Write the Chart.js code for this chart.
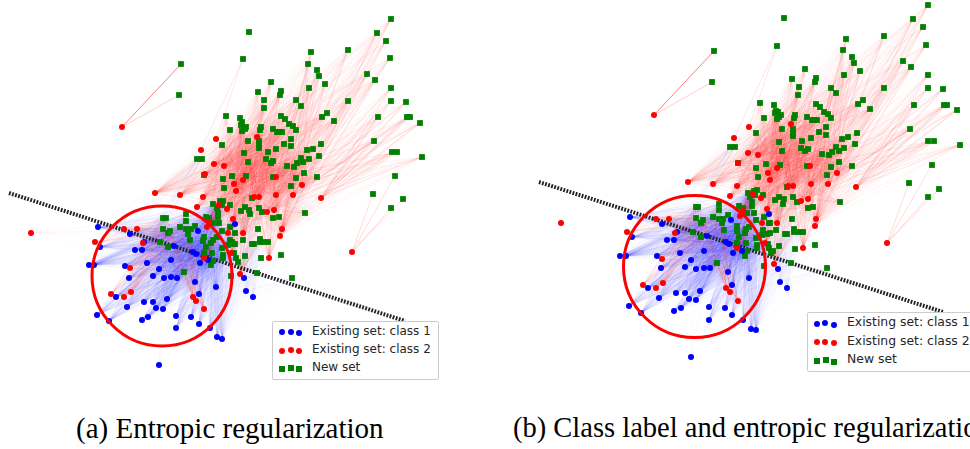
<!DOCTYPE html>
<html lang="en">
<head>
  <meta charset="UTF-8">
  <title>Entropic regularization</title>
  <style>
    html, body { margin: 0; padding: 0; background: #fff; }
    body { position: relative; width: 970px; height: 449px; overflow: hidden; }
    canvas { position: absolute; top: 0; filter: blur(0.35px); }
    #panelA { left: 0; }
    #panelB { left: 530px; }
    .legend {
      position: absolute; box-sizing: border-box; background: #fff;
      border: 1px solid #ccc; border-radius: 2px;
      font-family: "DejaVu Sans", sans-serif; color: #262626; white-space: nowrap;
    }
    .legend div { position: absolute; }
    .legend i { position: absolute; display: block; }
    .caption {
      position: absolute; top: 410px; white-space: nowrap;
      font-family: "Liberation Serif", serif; line-height: 36px; color: #000;
    }
  </style>
</head>
<body>
  <canvas id="panelA" width="465" height="395"></canvas>
  <canvas id="panelB" width="440" height="395"></canvas>
  <div class="caption" style="left:76px;font-size:29px">(a) Entropic regularization</div>
  <div class="caption" style="left:513px;font-size:28.5px">(b) Class label and entropic regularization</div>

  <script src="https://cdn.jsdelivr.net/npm/chart.js"></script>
  <script>
  const legendLabels = ['Existing set: class 1', 'Existing set: class 2', 'New set']

  // panel (a), existing set, class 2
  const redLoneA = [[122,127]]
  const redStrayA = [[31,233]]
  const redFarRightA = [[352,252]]
  const redEdgeA = [[321,198]]
  const redCrownA = [[216,139],[201,150]]
  const redRightA = [[293,195],[276,195],[276,177],[302,185],[267,212],[274,210],[282,229],[280,236]]
  const redUpperA = [[214,164],[224,166],[205,174],[234,184],[243,180],[236,191],[257,137],[254,197],[259,197],[203,197],[180,195],[155,193]]
  const redMiddleA = [[197,207],[219,205],[227,209],[209,222],[207,227],[233,219],[228,233],[243,233],[231,253],[204,258],[269,258],[240,274]]
  const redWestA = [[124,229],[137,229],[95,242],[143,243]]
  const redSouthA = [[130,268],[131,292],[111,294],[124,297],[193,297],[196,301],[204,309]]

  // panel (a), existing set, class 1
  const blueWestA = [[98,227],[100,247],[89,265],[94,265],[116,297],[127,307],[97,315],[109,321],[130,234],[135,250],[142,250],[144,242],[125,266],[129,278]]
  const blueCentreA = [[174,246],[198,231],[235,224],[193,252],[196,254],[208,260],[200,263],[171,260],[147,263],[159,269],[153,276],[164,278],[171,277],[177,278],[195,282],[216,287],[199,294],[167,299],[144,302],[153,302],[156,308],[163,309]]
  const blueSouthA = [[176,316],[191,317],[148,317],[142,320],[199,324],[176,328],[210,328],[217,337],[222,339]]
  const blueEastA = [[244,278],[246,291],[253,297]]
  const blueLostA = [[159,365]]

  // panel (a), new set
  const greenNorthA = [[181,64]]
  const greenSouthA = [[179,95]]
  const greenIsleA = [[249,32]]
  const greenCrownA = [[243,59]]
  const greenLowA = [[373,194],[391,208],[395,176],[403,199]]
  const greenFarRightA = [[391,88],[391,101],[406,102],[407,117],[410,117],[420,123],[422,157],[378,117],[374,141],[392,152],[397,152]]
  const greenTopA = [[391,19],[377,33],[386,41],[348,50],[311,52],[308,64],[390,58],[317,70],[319,76],[367,74],[375,80],[325,84],[309,88],[348,101]]
  const greenMidA = [[271,82],[258,92],[281,91],[280,95],[264,100],[296,100],[301,106],[264,108],[327,113],[322,117],[281,116],[285,119],[334,121],[289,124],[293,126],[296,130],[261,127],[260,130],[273,129],[277,132],[279,132],[282,132],[291,139],[226,116],[240,118],[242,122],[241,125],[246,127],[245,129],[242,131],[230,130]]
  const greenDriftA = [[197,159],[202,159]]
  const greenInnerA = [[222,145],[248,141],[244,153],[248,162],[204,175],[232,176],[223,179],[246,176],[224,188],[259,141],[259,144],[259,148],[284,144],[291,146],[321,144],[313,149],[307,150],[276,149],[268,152],[319,156],[266,159],[273,161],[271,163],[301,158],[309,159],[303,162],[297,163],[294,167],[287,166],[304,173],[317,177],[273,177],[296,178],[291,186],[252,198],[305,213],[273,218],[279,217]]
  const greenCoreWestA = [[163,218],[166,218],[186,214],[186,221],[180,227],[186,229],[191,229],[163,229],[170,231],[168,233],[188,234],[190,240],[160,242],[168,247],[184,272]]
  const greenCoreMidA = [[213,204],[220,201],[223,201],[222,205],[217,208],[218,213],[218,217],[230,205],[206,217],[209,218],[213,223],[219,223],[195,226],[230,227],[222,231],[235,233],[204,237],[203,241],[217,237],[213,240],[211,243],[230,240],[228,245],[233,244],[206,247],[204,253],[212,253],[222,248],[223,255],[223,258],[234,253],[236,258],[213,261],[211,265]]
  const greenCoreEastA = [[241,211],[245,207],[249,210],[250,214],[259,208],[262,212],[258,229],[243,240],[260,239],[252,244],[254,244],[260,242],[263,242],[268,242],[235,244],[232,242],[281,255],[261,258],[245,256],[238,262],[257,273],[292,278],[231,276]]

  // panel (b), existing set, class 2
  const redLoneB = [[654,115]]
  const redStrayB = [[561,223]]
  const redFarRightB = [[887,243]]
  const redEdgeB = [[856,187]]
  const redCrownB = [[749,127],[734,138]]
  const redRightB = [[828,184],[811,184],[810,166],[837,173],[801,201],[808,199],[816,219],[815,226]]
  const redUpperB = [[748,153],[758,155],[738,163],[768,173],[777,168],[770,180],[791,124],[788,186],[793,186],[737,186],[713,184],[688,182]]
  const redMiddleB = [[730,196],[753,194],[761,198],[743,211],[740,216],[767,209],[762,223],[777,223],[765,243],[737,248],[803,248],[774,264]]
  const redWestB = [[656,219],[669,219],[627,232],[675,233]]
  const redSouthB = [[662,259],[663,283],[643,285],[656,288],[726,288],[730,292],[738,301]]

  // panel (b), existing set, class 1
  const blueWestB = [[630,217],[632,237],[620,256],[626,256],[648,288],[659,298],[629,306],[641,313],[662,224],[667,240],[674,240],[677,232],[657,256],[661,268]]
  const blueCentreB = [[707,236],[731,220],[769,214],[726,242],[729,244],[742,251],[733,253],[704,251],[680,253],[691,260],[685,267],[696,269],[704,268],[710,268],[728,272],[749,278],[732,285],[700,291],[676,293],[685,293],[689,299],[696,300]]
  const blueSouthB = [[709,307],[725,308],[681,308],[674,311],[732,315],[709,320],[743,320],[751,329],[756,330]]
  const blueEastB = [[778,269],[780,282],[787,288]]
  const blueLostB = [[691,357]]

  // panel (b), new set
  const greenNorthB = [[714,51]]
  const greenSouthB = [[712,82]]
  const greenIsleB = [[784,18]]
  const greenCrownB = [[777,46]]
  const greenLowB = [[909,183],[928,197],[932,165],[939,189]]
  const greenFarRightB = [[928,75],[928,88],[943,89],[944,105],[947,105],[957,110],[960,145],[914,105],[910,129],[928,141],[934,141]]
  const greenTopB = [[928,5],[913,19],[923,27],[884,36],[846,39],[843,50],[926,45],[852,57],[854,63],[903,61],[911,67],[860,71],[844,75],[831,88],[884,88]]
  const greenMidB = [[805,69],[792,79],[816,78],[815,82],[799,87],[836,93],[798,95],[863,100],[858,104],[816,104],[820,107],[870,109],[824,112],[828,114],[795,115],[794,118],[807,117],[812,120],[814,120],[817,120],[831,118],[760,103],[774,105],[776,111],[778,112],[775,113],[781,115],[779,117],[777,119],[764,118]]
  const greenDriftB = [[730,147],[735,147]]
  const greenInnerB = [[782,129],[826,127],[793,129],[793,133],[793,136],[819,132],[826,135],[756,133],[857,133],[848,137],[842,139],[811,138],[802,141],[779,142],[855,144],[836,147],[844,148],[839,151],[801,148],[808,149],[805,151],[782,151],[832,152],[829,155],[822,154],[839,162],[766,164],[780,165],[807,166],[831,167],[852,166],[756,168],[738,163],[758,177],[827,175],[787,187],[840,202],[808,208],[813,207]]
  const greenCoreWestB = [[696,207],[698,207],[719,204],[719,210],[713,217],[719,219],[723,219],[696,218],[703,220],[701,223],[722,223],[724,230],[693,232],[701,237],[717,263]]
  const greenCoreMidB = [[748,193],[754,191],[757,190],[755,195],[750,197],[752,202],[752,206],[763,195],[739,206],[743,208],[747,213],[754,213],[728,215],[764,217],[756,220],[769,223],[737,226],[737,231],[749,227],[746,229],[745,233],[763,230],[762,235],[767,234],[739,237],[737,243],[746,243],[756,238],[757,245],[757,248],[768,244],[769,248],[747,251],[745,256]]
  const greenCoreEastB = [[775,200],[779,197],[784,199],[783,204],[793,197],[797,202],[792,219],[776,230],[770,223],[794,229],[787,234],[785,234],[794,232],[799,232],[803,232],[770,233],[815,245],[795,249],[779,246],[773,251],[771,253],[791,263],[827,268],[764,266]]

  const groupsA = {
    redLone: redLoneA, redStray: redStrayA, redFarRight: redFarRightA, redEdge: redEdgeA, redCrown: redCrownA,
    redRight: redRightA, redUpper: redUpperA, redMiddle: redMiddleA, redWest: redWestA, redSouth: redSouthA,
    blueWest: blueWestA, blueCentre: blueCentreA, blueSouth: blueSouthA, blueEast: blueEastA, blueLost: blueLostA,
    greenNorth: greenNorthA, greenSouth: greenSouthA, greenIsle: greenIsleA, greenCrown: greenCrownA, greenLow: greenLowA,
    greenFarRight: greenFarRightA, greenTop: greenTopA, greenMid: greenMidA, greenDrift: greenDriftA, greenInner: greenInnerA,
    greenCoreWest: greenCoreWestA, greenCoreMid: greenCoreMidA, greenCoreEast: greenCoreEastA
  }
  const groupsB = {
    redLone: redLoneB, redStray: redStrayB, redFarRight: redFarRightB, redEdge: redEdgeB, redCrown: redCrownB,
    redRight: redRightB, redUpper: redUpperB, redMiddle: redMiddleB, redWest: redWestB, redSouth: redSouthB,
    blueWest: blueWestB, blueCentre: blueCentreB, blueSouth: blueSouthB, blueEast: blueEastB, blueLost: blueLostB,
    greenNorth: greenNorthB, greenSouth: greenSouthB, greenIsle: greenIsleB, greenCrown: greenCrownB, greenLow: greenLowB,
    greenFarRight: greenFarRightB, greenTop: greenTopB, greenMid: greenMidB, greenDrift: greenDriftB, greenInner: greenInnerB,
    greenCoreWest: greenCoreWestB, greenCoreMid: greenCoreMidB, greenCoreEast: greenCoreEastB
  }

  // which group of the existing set is coupled to which group of the new set
  const couplings = [
    ['blueWest', 'greenCoreWest', 0.03], ['blueWest', 'greenCoreMid', 0.03], ['blueWest', 'greenDrift', 0.025],
    ['blueCentre', 'greenCoreWest', 0.025], ['blueCentre', 'greenCoreMid', 0.03],
    ['blueSouth', 'greenCoreMid', 0.022], ['blueSouth', 'greenCoreEast', 0.018],
    ['blueEast', 'greenCoreEast', 0.02], ['blueLost', 'greenCoreWest', 0.006],
    ['redSouth', 'greenCoreWest', 0.05], ['redWest', 'greenCoreWest', 0.04],
    ['redMiddle', 'greenInner', 0.03], ['redMiddle', 'greenMid', 0.03],
    ['redUpper', 'greenMid', 0.035], ['redUpper', 'greenInner', 0.03], ['redUpper', 'greenTop', 0.025],
    ['redRight', 'greenTop', 0.05], ['redRight', 'greenInner', 0.03], ['redRight', 'greenFarRight', 0.05],
    ['redEdge', 'greenFarRight', 0.12], ['redFarRight', 'greenLow', 0.14],
    ['redCrown', 'greenCrown', 0.1],
    ['redLone', 'greenNorth', 0.5], ['redLone', 'greenSouth', 0.2]
  ]

  const linksPlugin = {
    id: 'links',
    beforeDatasetsDraw(chart, args, opts) {
      const ctx = chart.ctx, sx = chart.scales.x, sy = chart.scales.y
      ctx.save()
      ctx.lineWidth = 1
      opts.plan.forEach(([from, to, alpha]) => {
        ctx.strokeStyle = (from.startsWith('blue') ? 'rgba(0,0,255,' : 'rgba(255,0,0,') + alpha + ')'
        opts.groups[from].forEach(s => opts.groups[to].forEach(t => {
          ctx.beginPath()
          ctx.moveTo(sx.getPixelForValue(s[0]), sy.getPixelForValue(s[1]))
          ctx.lineTo(sx.getPixelForValue(t[0]), sy.getPixelForValue(t[1]))
          ctx.stroke()
        }))
      })
      ctx.restore()
    }
  }

  const pick = (groups, prefix) => Object.keys(groups).filter(k => k.startsWith(prefix)).flatMap(k => groups[k])

  function makePanel(id, groups, xMin, xMax, boundary, circle, radius, plan) {
    return new Chart(document.getElementById(id), {
      type: 'scatter',
      data: {
        datasets: [
          { label: 'Boundary', data: boundary, showLine: true, pointRadius: 0, borderColor: '#222', borderWidth: 4, borderDash: [1.8, 1.4], order: 5 },
          { label: legendLabels[2], data: pick(groups, 'green'), pointStyle: 'rect', pointRadius: 4.1, pointBorderWidth: 0, backgroundColor: '#008000', order: 4 },
          { label: legendLabels[0], data: pick(groups, 'blue'), pointRadius: 3, pointBorderWidth: 0, backgroundColor: '#0000ff', order: 3 },
          { label: legendLabels[1], data: pick(groups, 'red'), pointRadius: 3, pointBorderWidth: 0, backgroundColor: '#ff0000', order: 2 },
          { label: 'Circle', data: circle, pointRadius: radius, pointBorderWidth: 3, pointBorderColor: '#ff0000', backgroundColor: 'transparent', order: 1 }
        ]
      },
      options: {
        responsive: false,
        animation: false,
        events: [],
        clip: false,
        // the big circle marker must not shrink the plot area
        layout: { autoPadding: false },
        scales: {
          x: { type: 'linear', display: false, min: xMin, max: xMax },
          y: { type: 'linear', display: false, min: 0, max: 395, reverse: true }
        },
        plugins: {
          legend: { display: false },
          tooltip: { enabled: false },
          links: { groups: groups, plan: plan }
        }
      },
      plugins: [linksPlugin]
    })
  }

  const boundaryA = [[9,193],[405,321]]
  const boundaryB = [[539,182],[943,312]]
  const circleA = [[162,276]]
  const circleB = [[694.5,266.5]]

  makePanel('panelA', groupsA, 0, 465, boundaryA, circleA, 70, couplings.concat([['redStray', 'greenCoreWest', 0.012]]))
  makePanel('panelB', groupsB, 530, 970, boundaryB, circleB, 71, couplings)

  // legend with three markers per row, like the matplotlib one
  function addLegend(box, fontSize, markers, textLeft, rows) {
    const el = document.createElement('div')
    el.className = 'legend'
    el.style.cssText = `left:${box[0]}px;top:${box[1]}px;width:${box[2]}px;height:${box[3]}px;font-size:${fontSize}px`
    const colors = ['#0000ff', '#ff0000', '#008000']
    legendLabels.forEach((label, i) => {
      markers[i].forEach(m => {
        const dot = document.createElement('i')
        dot.style.cssText = `left:${m[0] - box[0] - 3.5}px;top:${m[1] - box[1] - 3.5}px;width:6px;height:6px;background:${colors[i]};` + (i < 2 ? 'border-radius:50%' : '')
        el.appendChild(dot)
      })
      const t = document.createElement('div')
      t.textContent = label
      t.style.cssText = `left:${textLeft - box[0] - 1}px;top:${rows[i] - box[1] - 1 - fontSize * 0.6}px;line-height:${fontSize * 1.2}px`
      el.appendChild(t)
    })
    document.body.appendChild(el)
  }
  addLegend([272,321,167,59], 12,
    [[[281,331],[290,331],[298,332]], [[281,350],[290,349],[298,350]], [[281,368],[290,367],[298,368]]], 312, [331,349,367])
  addLegend([807,312,180,60], 12.4,
    [[[816,323],[824,322],[833,324]], [[816,341],[824,341],[833,342]], [[816,360],[825,359],[833,361]]], 847, [322,341,359])
  </script>
</body>
</html>
